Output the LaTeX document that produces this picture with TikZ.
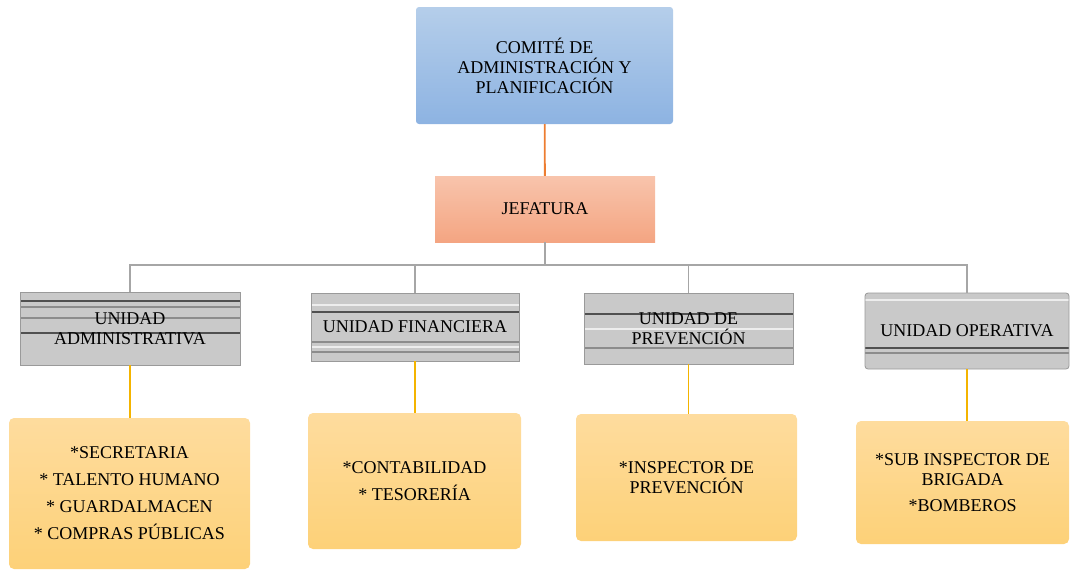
\documentclass[tikz,border=0pt]{standalone}
\usepackage{fontspec}
\setmainfont{Liberation Serif}
\usepackage{xcolor}
\usepackage{tikz}
\usetikzlibrary{calc, positioning, shadings}
\definecolor{comitetop}{HTML}{B5CEEA}
\definecolor{comitebot}{HTML}{8DB3E2}
\definecolor{jefetop}{HTML}{F8C4AC}
\definecolor{jefebot}{HTML}{F4A582}
\definecolor{unitgray}{HTML}{C9C9C9}
\definecolor{unitedge}{HTML}{9A9A9A}
\definecolor{stripedark}{HTML}{505050}
\definecolor{stripemid}{HTML}{8C8C8C}
\definecolor{stripelight}{HTML}{EDEDED}
\definecolor{subtop}{HTML}{FEDC9E}
\definecolor{subbot}{HTML}{FDD178}
\definecolor{goldline}{HTML}{F4B400}
\definecolor{orangeline}{HTML}{ED7D31}
\definecolor{grayline}{HTML}{A6A6A6}
\tikzset{
    comitenode/.style = {rectangle, rounded corners=0.3em, inner sep=0em, draw=none,
      top color=comitetop, bottom color=comitebot},
    jefenode/.style = {rectangle, inner sep=0em, draw=none,
      top color=jefetop, bottom color=jefebot},
    unitnode/.style = {rectangle, inner sep=0em, fill=unitgray, draw=unitedge, line width=0.8pt},
    subnode/.style = {rectangle, rounded corners=0.5em, inner sep=0em, draw=none,
      top color=subtop, bottom color=subbot},
    orangelink/.style = {orangeline, line width=1.8pt},
    graylink/.style = {grayline, line width=1.8pt},
    goldlink/.style = {goldline, line width=1.8pt},
    every text node part/.style={align=center}
}
% one horizontal band across a unit box, #2 pt below its top edge
\newcommand{\stripe}[2]{\draw[#1, line width=1.6pt]
    ([yshift=-#2pt]path picture bounding box.north west) --
    ([yshift=-#2pt]path picture bounding box.north east);}

\begin{document}
\begin{tikzpicture}[x=1pt, y=-1pt, font=\rmfamily\fontsize{18}{20}\selectfont]
    \useasboundingbox (0,0) rectangle (1070,570);

    \node [name=comite, comitenode, minimum width=257pt, minimum height=117pt]
        at (544.5,65.5) {COMITÉ DE\\ADMINISTRACIÓN Y\\PLANIFICACIÓN};
    \node [name=jefatura, jefenode, minimum width=220pt, minimum height=66pt]
        at (545,209) {JEFATURA};

    % unidades
    \node [name=uadm, unitnode, minimum width=220pt, minimum height=73pt,
        path picture={\stripe{stripedark}{9}\stripe{stripemid}{15}\stripe{stripemid}{26}\stripe{stripedark}{41}}]
        at (130,328.5) {UNIDAD\\ADMINISTRATIVA};
    \node [name=ufin, unitnode, minimum width=208pt, minimum height=68pt,
        path picture={\stripe{stripelight}{12}\stripe{stripedark}{19}\stripe{stripemid}{49}\stripe{stripelight}{54}\stripe{stripemid}{59}}]
        at (415,327) {UNIDAD FINANCIERA};
    \node [name=upre, unitnode, minimum width=209pt, minimum height=71pt,
        path picture={\stripe{stripedark}{21}\stripe{stripelight}{36}\stripe{stripemid}{55}}]
        at (688.5,328.5) {UNIDAD DE\\PREVENCIÓN};
    \node [name=uope, unitnode, rounded corners=0.3em, minimum width=204pt, minimum height=76pt,
        path picture={\stripe{stripelight}{7}\stripe{stripedark}{55}\stripe{stripemid}{60}}]
        at (967,331) {UNIDAD OPERATIVA};

    % dependencias
    \node [name=sadm, subnode, minimum width=241pt, minimum height=151pt]
        at (129.5,493.5) {*SECRETARIA\\[7pt]* TALENTO HUMANO\\[7pt]* GUARDALMACEN\\[7pt]* COMPRAS PÚBLICAS};
    \node [name=sfin, subnode, minimum width=213pt, minimum height=136pt]
        at (414.5,481) {*CONTABILIDAD\\[7pt]* TESORERÍA};
    \node [name=spre, subnode, minimum width=221pt, minimum height=127pt]
        at (686.5,477.5) {*INSPECTOR DE\\PREVENCIÓN};
    \node [name=sope, subnode, minimum width=213pt, minimum height=123pt]
        at (962.5,482.5) {*SUB INSPECTOR DE\\BRIGADA\\[6pt]*BOMBEROS};

    \coordinate (bus) at (544,265);
    \draw [orangelink] (comite) -- (jefatura);
    \draw [graylink] (jefatura.south) -- (jefatura.south |- bus);
    \draw [graylink] (uadm.north) |- (uope.north |- bus) -- (uope.north);
    \draw [graylink] (ufin.north |- bus) -- (ufin.north);
    \draw [graylink] (upre.north |- bus) -- (upre.north);

    \draw [goldlink] (uadm.south) -- (uadm.south |- sadm.north);
    \draw [goldlink] (ufin.south) -- (ufin.south |- sfin.north);
    \draw [goldlink] (upre.south) -- (upre.south |- spre.north);
    \draw [goldlink] (uope.south) -- (uope.south |- sope.north);
\end{tikzpicture}
\end{document}
